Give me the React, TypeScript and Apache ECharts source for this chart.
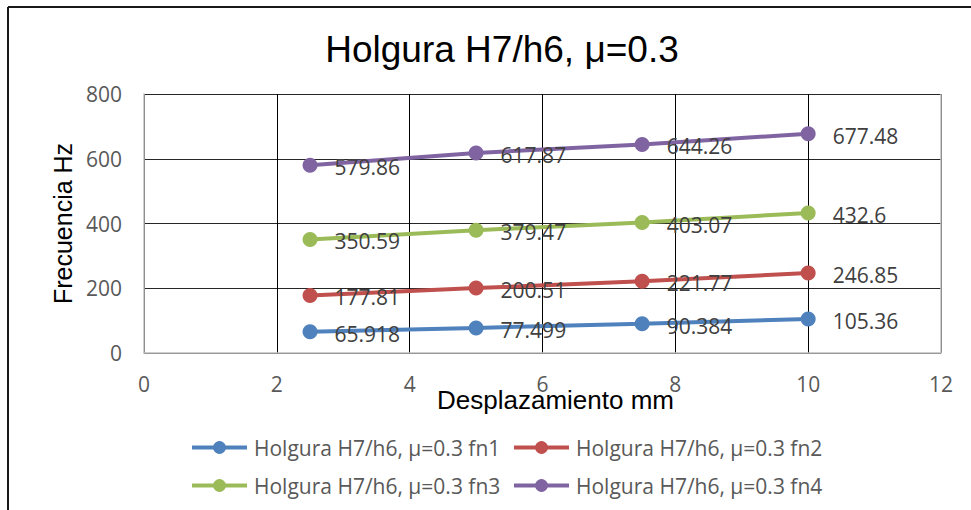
import React, { useEffect, useRef } from "react";
import * as echarts from "echarts";

const xValues = [2.5, 5, 7.5, 10];
const fn1 = [65.918, 77.499, 90.384, 105.36];
const fn2 = [177.81, 200.51, 221.77, 246.85];
const fn3 = [350.59, 379.47, 403.07, 432.6];
const fn4 = [579.86, 617.87, 644.26, 677.48];
const seriesNames = [
  "Holgura H7/h6, μ=0.3 fn1",
  "Holgura H7/h6, μ=0.3 fn2",
  "Holgura H7/h6, μ=0.3 fn3",
  "Holgura H7/h6, μ=0.3 fn4",
];
const colors = ["#4F81BD", "#C0504D", "#9BBB59", "#8064A2"];
const titleText = "Holgura H7/h6, μ=0.3";
const xName = "Desplazamiento mm";
const yName = "Frecuencia Hz";

const labelFont = "'Open Sans', Lato, sans-serif";
const arialFont = "'Liberation Sans', Arial, sans-serif";

export default function App() {
  const ref = useRef<HTMLDivElement>(null);
  useEffect(() => {
    if (!ref.current) return;
    const chart = echarts.init(ref.current, undefined, { renderer: "svg" });
    const all = [fn1, fn2, fn3, fn4];
    const series = all.map((vals, i) => ({
      name: seriesNames[i],
      type: "line",
      data: vals.map((v, j) => [xValues[j], v]),
      symbol: "circle",
      symbolSize: 15,
      lineStyle: { width: 4, color: colors[i] },
      itemStyle: { color: colors[i] },
      label: {
        show: true,
        position: "right",
        distance: 17,
        offset: [0, 2],
        formatter: (p: any) => String(p.value[1]),
        fontFamily: labelFont,
        fontSize: 21,
        color: "#404040",
      },
      z: 3,
    }));
    const legendBase = {
      itemWidth: 55,
      itemHeight: 16,
      itemGap: 10,
      lineStyle: { width: 4 },
      textStyle: { fontFamily: labelFont, fontSize: 21, color: "#595959", padding: [0, 0, 0, 2] },
      orient: "horizontal",
    };
    const legendPos = [
      { left: 185, top: 432 },
      { left: 507, top: 432 },
      { left: 185, top: 470 },
      { left: 507, top: 470 },
    ];
    chart.setOption({
      animation: false,
      backgroundColor: "#ffffff",
      title: {
        text: titleText,
        left: 497,
        textAlign: "center",
        top: 26,
        textStyle: {
          fontFamily: arialFont,
          fontSize: 37,
          fontWeight: "normal",
          color: "#000000",
        },
      },
      legend: seriesNames.map((n, i) => ({ ...legendBase, ...legendPos[i], data: [n] })),
      grid: { left: 144, right: 30, top: 94, bottom: 157 },
      xAxis: {
        type: "value",
        min: 0,
        max: 12,
        interval: 2,
        name: xName,
        nameLocation: "middle",
        nameGap: 34,
        nameMoveOverlap: false,
        nameTextStyle: {
          fontFamily: arialFont,
          fontSize: 26,
          color: "#000000",
          padding: [0, 0, 0, 26],
        },
        axisLine: { show: true, lineStyle: { color: "#bfbfbf", width: 1.5 } },
        axisTick: { show: false },
        axisLabel: {
          fontFamily: labelFont,
          fontSize: 21,
          color: "#595959",
          margin: 20,
        },
        splitLine: { show: true, lineStyle: { color: "#000000", width: 1 } },
      },
      yAxis: {
        type: "value",
        min: 0,
        max: 800,
        interval: 200,
        name: yName,
        nameLocation: "middle",
        nameGap: 69,
        nameMoveOverlap: false,
        nameTextStyle: {
          fontFamily: arialFont,
          fontSize: 25,
          color: "#000000",
        },
        axisLine: { show: true, lineStyle: { color: "#bfbfbf", width: 1.5 } },
        axisTick: { show: false },
        axisLabel: {
          fontFamily: labelFont,
          fontSize: 21,
          color: "#595959",
          margin: 22,
        },
        splitLine: { show: true, lineStyle: { color: "#262626", width: 1 } },
      },
      graphic: [
        {
          type: "line",
          shape: { x1: 8, y1: 7, x2: 971, y2: 7 },
          style: { stroke: "#1a1a1a", lineWidth: 2 },
        },
        {
          type: "line",
          shape: { x1: 8, y1: 7, x2: 8, y2: 510 },
          style: { stroke: "#1a1a1a", lineWidth: 2 },
        },
        {
          type: "line",
          shape: { x1: 941, y1: 94, x2: 941, y2: 353 },
          style: { stroke: "#bfbfbf", lineWidth: 1.5 },
          z: 1,
        },
      ],
      series,
    });
    return () => chart.dispose();
  }, []);
  return (
    <div
      ref={ref}
      style={{ position: "fixed", left: 0, top: 0, width: 971, height: 510 }}
    />
  );
}
